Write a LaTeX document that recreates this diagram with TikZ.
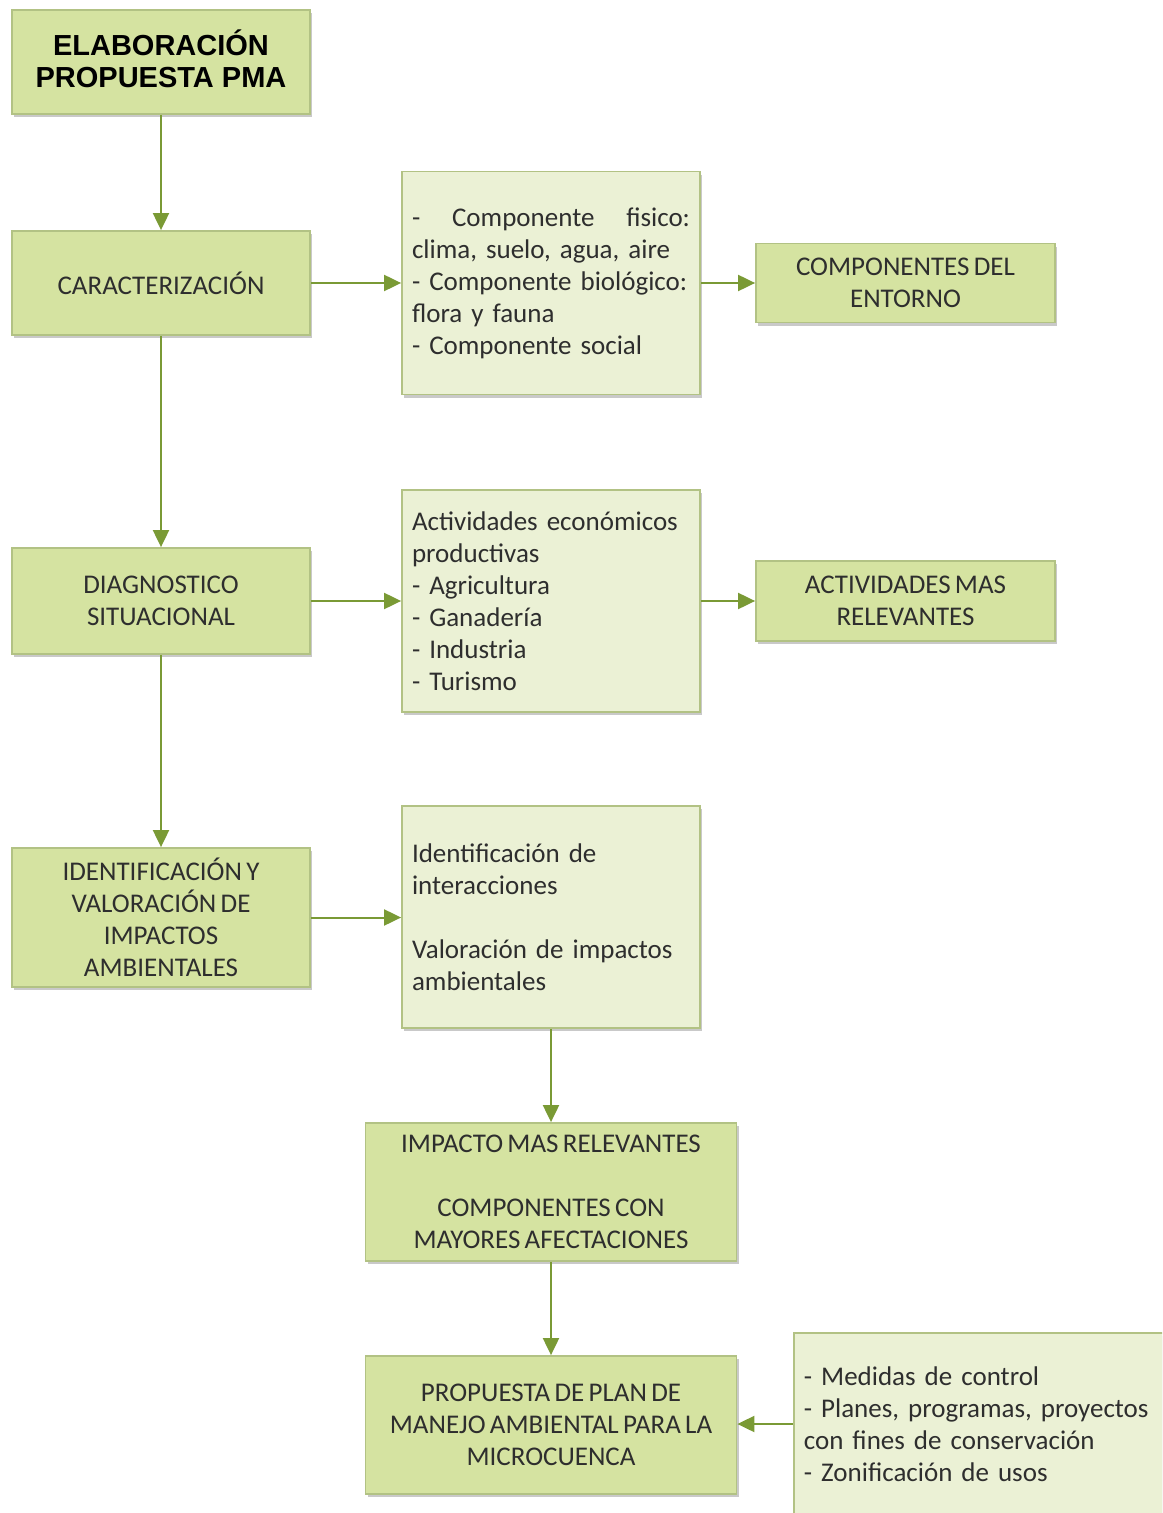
\documentclass[tikz,border=0pt]{standalone}
\usepackage{fontspec}
\setmainfont{Carlito}[WordSpace=0.7]
\newfontfamily\headfont{Liberation Sans}
\usetikzlibrary{arrows.meta,shadows}

\definecolor{boxdark}{HTML}{D5E3A1}
\definecolor{boxlight}{HTML}{EBF1D5}
\definecolor{boxline}{HTML}{B2C284}
\definecolor{flow}{HTML}{7A9A35}
\definecolor{ink}{HTML}{2E2E2E}

\tikzset{
  base/.style={draw=boxline, line width=0.9pt, inner sep=0pt,
    font=\fontsize{13.5}{16}\selectfont, text=ink,
    drop shadow={shadow xshift=1.2pt, shadow yshift=-1.6pt, opacity=0.35, fill=black!60}},
  darkbox/.style={base, fill=boxdark, align=center},
  lightbox/.style={base, fill=boxlight, align=left},
  flowline/.style={draw=flow, line width=1pt, -{Triangle[length=8.5pt,width=8pt]}},
}

\begin{document}
\begin{tikzpicture}[x=0.5pt,y=-0.5pt]
\path[use as bounding box, clip] (0,0) rectangle (1162,1513);
\fill[white] (0,0) rectangle (1162,1513);

% main column
\node[darkbox, minimum width=149pt, minimum height=52pt] (pma) at (161,62) {};
\node[font=\headfont\bfseries\fontsize{14.5}{16}\selectfont, text=black, align=center, inner sep=0pt]
  (pmatitle) at (161,59) {ELABORACIÓN\\PROPUESTA PMA};
\node[darkbox, minimum width=149pt, minimum height=52pt] (car) at (161,283) {CARACTERIZACIÓN};
\node[darkbox, minimum width=149pt, minimum height=53pt] (diag) at (161,601) {DIAGNOSTICO\\SITUACIONAL};
\node[darkbox, minimum width=149pt, minimum height=69.5pt] (ident) at (161,917.5)
  {IDENTIFICACIÓN Y\\VALORACIÓN DE\\IMPACTOS\\AMBIENTALES};

% detail column
\node[lightbox, minimum width=149pt, minimum height=111.5pt, text width=139pt] (comp) at (551,283)
  {\hbox to \linewidth{-\hfil Componente\hfil fisico:}
   clima, suelo, agua, aire\\
   - Componente biológico:\\
   flora y fauna\\
   - Componente social};
\node[lightbox, minimum width=149pt, minimum height=111pt, text width=139pt] (act) at (551,601)
  {Actividades económicos\\productivas\\- Agricultura\\- Ganadería\\- Industria\\- Turismo};
\node[lightbox, minimum width=149pt, minimum height=111pt, text width=139pt] (inter) at (551,917)
  {Identificación de\\interacciones\\[16pt]Valoración de impactos\\ambientales};

% outcome column
\node[darkbox, minimum width=149.5pt, minimum height=39.5pt] (ent) at (905.5,283)
  {COMPONENTES DEL\\ENTORNO};
\node[darkbox, minimum width=149.5pt, minimum height=40pt] (rel) at (905.5,601)
  {ACTIVIDADES MAS\\RELEVANTES};

% lower part
\node[darkbox, minimum width=185.5pt, minimum height=69pt] (imp) at (551,1192)
  {IMPACTO MAS RELEVANTES\\[16pt]COMPONENTES CON\\MAYORES AFECTACIONES};
\node[darkbox, minimum width=185.5pt, minimum height=69pt] (plan) at (551,1425)
  {PROPUESTA DE PLAN DE\\MANEJO AMBIENTAL PARA LA\\MICROCUENCA};
\node[lightbox, minimum width=190pt, minimum height=91pt, text width=180pt, anchor=west] (med) at (793,1424)
  {- Medidas de control\\- Planes, programas, proyectos\\con fines de conservación\\- Zonificación de usos};

% connectors
\draw[flowline] (pma) -- (car);
\draw[flowline] (car) -- (diag);
\draw[flowline] (diag) -- (ident);
\draw[flowline] (car) -- (comp);
\draw[flowline] (comp) -- (ent);
\draw[flowline] (diag) -- (act);
\draw[flowline] (act) -- (rel);
\draw[flowline] (ident.east) -- (inter.west |- ident.east);
\draw[flowline] (inter) -- (imp);
\draw[flowline] (imp) -- (plan);
\draw[flowline] (med.west) -- (plan.east |- med.west);
\end{tikzpicture}
\end{document}
